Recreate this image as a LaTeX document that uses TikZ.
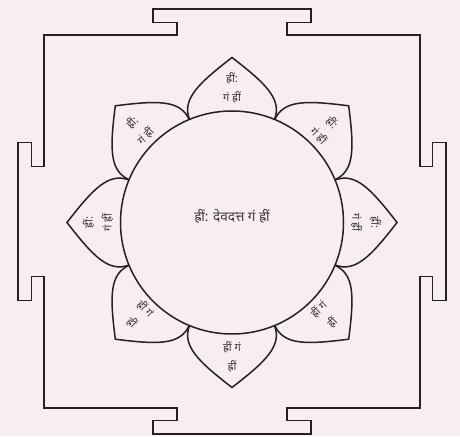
\documentclass[tikz,border=0pt]{standalone}
\usepackage{fontspec}
\usetikzlibrary{calc}
\newfontfamily\dev[Script=Devanagari]{Noto Sans}
\definecolor{paper}{RGB}{246,238,243}
\definecolor{ink}{RGB}{36,32,36}
\definecolor{script}{RGB}{60,55,60}
\begin{document}
\begin{tikzpicture}[x=1pt,y=1pt,
  line/.style={draw=ink,line width=1.5pt,line join=miter},
  petaltext/.style={text=script,font=\dev\bfseries\fontsize{11}{19}\selectfont,align=center,inner sep=0pt},
  centretext/.style={text=script,font=\dev\bfseries\fontsize{13.5}{15}\selectfont,inner sep=0pt}]
% page
\fill[paper] (0,0) rectangle (460,436);
\useasboundingbox (0,0) rectangle (460,436);

% outer square with four gates
\draw[line] (44,401) -- (177,401) -- (177,413.5) -- (153,413.5) -- (153,427)
  -- (311,427) -- (311,413.5) -- (287,413.5) -- (287,401) -- (420,401)
  -- (420,269.5) -- (432.5,269.5) -- (432.5,293.5) -- (446,293.5)
  -- (446,135.5) -- (432.5,135.5) -- (432.5,159.5) -- (420,159.5) -- (420,28)
  -- (287,28) -- (287,15.5) -- (311,15.5) -- (311,2) -- (153,2)
  -- (153,15.5) -- (177,15.5) -- (177,28) -- (44,28)
  -- (44,159.5) -- (31.5,159.5) -- (31.5,135.5) -- (18,135.5)
  -- (18,293.5) -- (31.5,293.5) -- (31.5,269.5) -- (44,269.5) -- cycle;

% eight lotus petals
\coordinate (c) at (232,213.5);
\foreach \a in {0,45,...,315}{
  \begin{scope}[shift={(c)},rotate=\a]
    \draw[line] (103,-42.5) .. controls (123,-50) and (138,-35) .. (165,0)
                .. controls (138,35) and (123,50) .. (103,42.5);
  \end{scope}
}

% central circle
\draw[line] (c) circle (111.5);
\node[centretext] (mantra) at ($(c)+(0,6)$) {ह्रीं: देवदत्त गं ह्रीं};

% petal syllables
\node[petaltext,rotate=0]   (p90)  at ($(c)+(90:135)$)  {ह्रीं:\\गं ह्रीं};
\node[petaltext,rotate=-45] (p45)  at ($(c)+(45:132)$)  {ह्रीं:\\गं ह्रीं};
\node[petaltext,rotate=45]  (p135) at ($(c)+(135:132)$) {ह्रीं:\\गं ह्रीं};
\node[petaltext,rotate=-90] (p0)   at ($(c)+(0:134)$)   {ह्रीं:\\गं ह्रीं};
\node[petaltext,rotate=90]  (p180) at ($(c)+(180:134)$) {ह्रीं:\\गं ह्रीं};
\node[petaltext,rotate=-45] (p225) at ($(c)+(225:132)$) {ह्रीं गं\\ह्रीं};
\node[petaltext,rotate=45]  (p315) at ($(c)+(315:132)$) {ह्रीं गं\\ह्रीं};
\node[petaltext,rotate=0]   (p270) at ($(c)+(270:134)$) {ह्रीं गं\\ह्रीं};
\end{tikzpicture}
\end{document}
